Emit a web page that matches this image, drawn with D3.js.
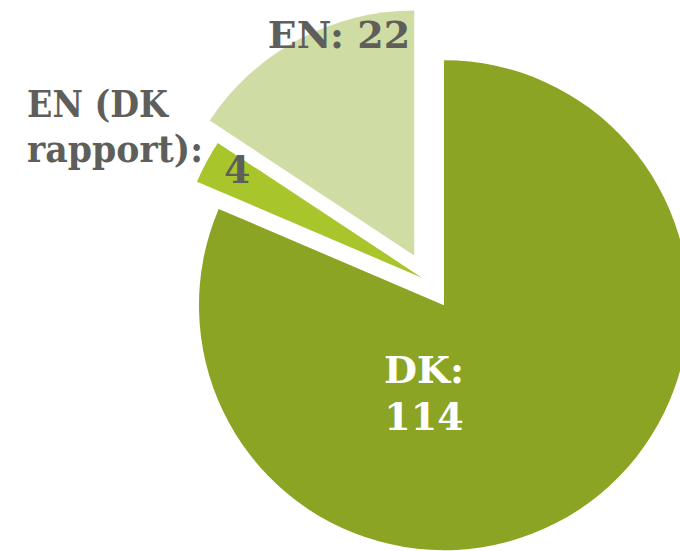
<!DOCTYPE html>
<html><head><meta charset="utf-8">
<script src="https://cdn.jsdelivr.net/npm/d3@7"></script>
<style>html,body{margin:0;padding:0;background:#fff;overflow:hidden}</style>
</head><body>
<svg id="c" width="680" height="551"></svg>
<script>
const categories = ["DK", "EN (DK rapport)", "EN"];
const values = [114, 4, 22];
const labelLines = [["DK:", "114"], ["EN (DK", "rapport):", "4"], ["EN: 22"]];

const colors = ["#8BA424", "#A8C62C", "#CFDDA5"];
const textColors = ["#ffffff", "#5E5F5A", "#5E5F5A"];
const cx = 428, cy = 281, R = 245;
const explode = [29, 6.5, 29];
// label anchor positions (relative to pie centre), per line: [dx, dy, anchor, fitWidth]
const labelPos = [
  [[-4, 102, "middle", 0], [-4, 149, "middle", 0]],
  [[-401, -164, "start", 141], [-401, -119, "start", 176], [-204, -98, "start", 0]],
  [[-89, -233, "middle", 0]]
];
const fontSize = 38;

const svg = d3.select("#c");
const pie = d3.pie().sort(null).startAngle(0).endAngle(2 * Math.PI);
const arcs = pie(values);
const arc = d3.arc().innerRadius(0).outerRadius(R);
const g = svg.append("g").attr("transform", `translate(${cx},${cy})`);

g.selectAll("path").data(arcs).enter().append("path")
  .attr("d", arc)
  .attr("fill", (d, i) => colors[i])
  .attr("transform", (d, i) => {
    const m = (d.startAngle + d.endAngle) / 2;
    return `translate(${explode[i] * Math.sin(m)},${-explode[i] * Math.cos(m)})`;
  });

arcs.forEach((d, i) => {
  labelLines[i].forEach((t, j) => {
    const p = labelPos[i][j];
    const txt = g.append("text")
      .attr("x", p[0]).attr("y", p[1])
      .attr("text-anchor", p[2])
      .attr("font-family", "'DejaVu Serif', serif")
      .attr("font-weight", "bold")
      .attr("font-size", fontSize)
      .attr("fill", textColors[i])
      .text(t);
    if (p[3]) txt.attr("textLength", p[3]).attr("lengthAdjust", "spacingAndGlyphs");
  });
});
</script>
</body></html>
